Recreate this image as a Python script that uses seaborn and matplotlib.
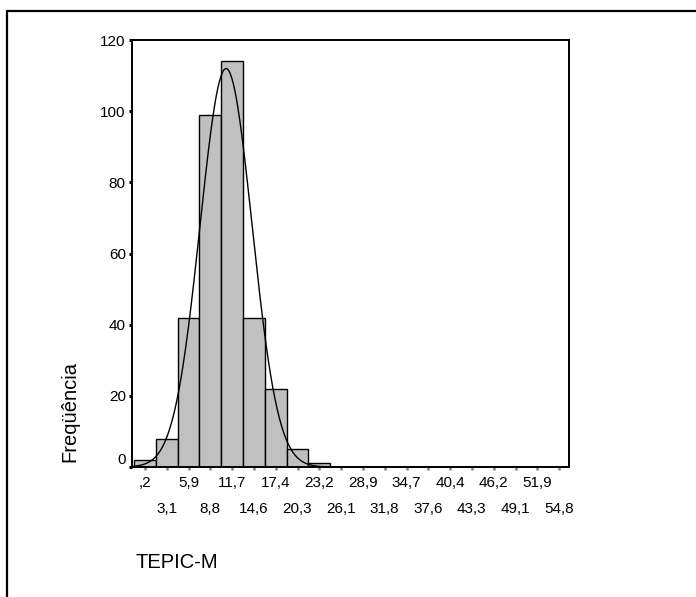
import numpy as np
import pandas as pd
import matplotlib
matplotlib.use("Agg")
import matplotlib.pyplot as plt
import matplotlib.transforms as mtransforms
from matplotlib.lines import Line2D
import seaborn as sns

# Histogram of TEPIC-M: bin midpoints and counts
bin_centers = [0.2, 3.1, 5.9, 8.8, 11.7, 14.6, 17.4, 20.3, 23.2, 26.1,
               28.9, 31.8, 34.7, 37.6, 40.4, 43.3, 46.2, 49.1, 51.9, 54.8]
frequencies = [2, 8, 42, 99, 114, 42, 22, 5, 1, 0,
               0, 0, 0, 0, 0, 0, 0, 0, 0, 0]
tick_labels = [",2", "3,1", "5,9", "8,8", "11,7", "14,6", "17,4", "20,3",
               "23,2", "26,1", "28,9", "31,8", "34,7", "37,6", "40,4",
               "43,3", "46,2", "49,1", "51,9", "54,8"]
y_ticks = [0, 20, 40, 60, 80, 100, 120]

# Parameters of the fitted normal curve
fit_mean = 10.9
fit_sd = 3.43

sns.set_style("white")
plt.rcParams["font.family"] = ["Liberation Sans", "DejaVu Sans"]
plt.rcParams["text.color"] = "black"
plt.rcParams["xtick.labelcolor"] = "black"
plt.rcParams["ytick.labelcolor"] = "black"

W, H, DPI = 696, 597, 100
fig = plt.figure(figsize=(W / DPI, H / DPI), dpi=DPI)
ax = fig.add_axes([132 / W, 1 - 467 / H, (569 - 132) / W, (467 - 40) / H])

width = (bin_centers[-1] - bin_centers[0]) / (len(bin_centers) - 1)
centers = bin_centers[0] + width * np.arange(len(bin_centers))
edges = [float(c - width / 2) for c in centers] + [float(centers[-1] + width / 2)]

df = pd.DataFrame({"TEPIC-M": bin_centers, "n": frequencies})
sns.histplot(data=df, x="TEPIC-M", weights="n", bins=edges, ax=ax,
             color="#c0c0c0", edgecolor="black", linewidth=1.0, alpha=1)

x_lo, x_hi = -1.5, 56.1
n_total = sum(frequencies)
xs = np.linspace(x_lo, x_hi, 600)
ys = n_total * width * np.exp(-0.5 * ((xs - fit_mean) / fit_sd) ** 2) / (fit_sd * np.sqrt(2 * np.pi))
sns.lineplot(x=xs, y=ys, ax=ax, color="black", linewidth=1.0)

ax.set_xlim(x_lo, x_hi)
ax.set_ylim(0, 120)
ax.set_yticks(y_ticks)
ax.set_yticklabels([str(v) for v in y_ticks])

# alternate the bin labels over two rows: even ones as major ticks, odd ones as minor
ax.set_xticks(centers[0::2])
ax.set_xticklabels(tick_labels[0::2])
ax.set_xticks(centers[1::2], minor=True)
ax.set_xticklabels(tick_labels[1::2], minor=True)
ax.set_xlabel("")
ax.set_ylabel("")

for s in ax.spines.values():
    s.set_visible(True)
    s.set_color("black")
    s.set_linewidth(1.4)

ax.tick_params(axis="y", direction="out", length=2.5, width=2.2, color="black",
               pad=2, labelsize=11, left=True, labelcolor="black")
ax.tick_params(axis="x", which="major", direction="out", length=2.5, width=1.8,
               color="#808080", pad=4, labelsize=11, bottom=True, labelcolor="black")
ax.tick_params(axis="x", which="minor", direction="out", length=2.5, width=1.8,
               color="#808080", pad=23, labelsize=11, bottom=True, labelcolor="black")

# lift the zero label clear of the baseline
zero_lab = ax.get_yticklabels()[0]
zero_lab.set_transform(zero_lab.get_transform() +
                       mtransforms.ScaledTranslation(0, 6 / 72, fig.dpi_scale_trans))

fig.text(70 / W, 1 - 412 / H, "Freqüência", rotation=90, ha="center", va="center",
         fontsize=14.5)
fig.text(135 / W, 1 - 562 / H, "TEPIC-M", ha="left", va="center", fontsize=14.5)

# outer frame
fig.add_artist(Line2D([7 / W, 1.01], [1 - 11 / H, 1 - 11 / H], transform=fig.transFigure,
                      color="black", linewidth=1.6))
fig.add_artist(Line2D([7 / W, 7 / W], [1 - 11 / H, -0.01], transform=fig.transFigure,
                      color="black", linewidth=1.6))

fig.savefig("out.png", dpi=DPI)
